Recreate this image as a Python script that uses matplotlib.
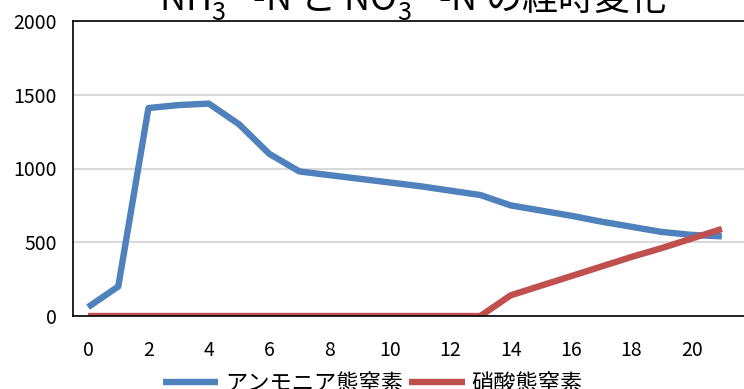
import matplotlib.pyplot as plt

plt.rcParams['font.family'] = ['Noto Sans CJK JP', 'DejaVu Sans']
plt.rcParams['mathtext.fontset'] = 'custom'
plt.rcParams['mathtext.rm'] = 'Noto Sans CJK JP'

days = list(range(22))
ammonia = [60, 200, 1410, 1430, 1440, 1300, 1100, 980, 955, 930, 905, 880,
           850, 820, 750, 715, 680, 640, 605, 570, 550, 540]
nitrate = [0, 0, 0, 0, 0, 0, 0, 0, 0, 0, 0, 0,
           0, 0, 140, 205, 270, 335, 400, 460, 525, 590]
labels = ['アンモニア態窒素', '硝酸態窒素']
colors = ['#4F81BD', '#C0504D']
xticks = list(range(0, 21, 2))
yticks = [0, 500, 1000, 1500, 2000]

fig = plt.figure(figsize=(7.44, 3.89), dpi=100)
ax = fig.add_axes([73 / 744, 1 - 316 / 389, 673 / 744, 295 / 389])

ax.plot(days, ammonia, color=colors[0], lw=4.6, label=labels[0],
        solid_joinstyle='round', solid_capstyle='butt')
ax.plot(days, nitrate, color=colors[1], lw=4.6, label=labels[1],
        solid_joinstyle='round', solid_capstyle='butt')

ax.set_xlim(-0.5, 21.8)
ax.set_ylim(0, 2000)
ax.set_xticks(xticks)
ax.set_yticks(yticks)
ax.tick_params(length=0, labelsize=14)
ax.tick_params(axis='x', pad=17)
ax.tick_params(axis='y', pad=11.5)
ax.grid(axis='y', color='#D9D9D9', lw=1.5)
ax.set_axisbelow(True)
for s in ['left', 'bottom', 'top']:
    ax.spines[s].set_color('black')
    ax.spines[s].set_linewidth(1.2)
ax.spines['right'].set_visible(False)

# title sits partly above the top edge
fig.text(0.555, 0.974, r'NH$_3^{\ +}$ -N と NO$_3^{\ -}$ -N の経時変化',
         ha='center', va='baseline', fontsize=26)

fig.legend(loc='center', bbox_to_anchor=(0.501, 1 - 383 / 389), ncol=2,
           frameon=False, fontsize=16, handlelength=2.5, handletextpad=0.3,
           columnspacing=0.3, borderaxespad=0)

fig.savefig('out.png', dpi=100)
